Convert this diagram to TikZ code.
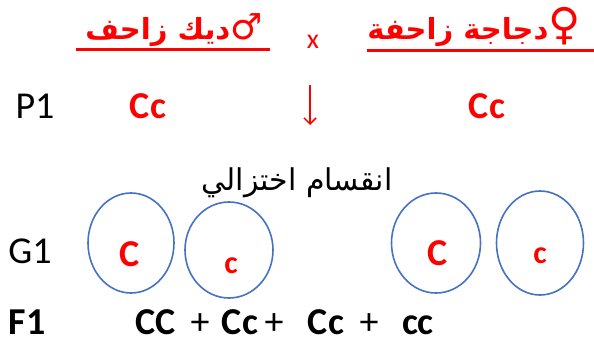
\documentclass[tikz,border=0pt]{standalone}
\usepackage{fontspec}
\setmainfont{Carlito}
\newfontfamily\arabicfont[Script=Arabic]{DejaVu Sans}
\TeXXeTstate=1
\usetikzlibrary{arrows.meta, shapes.geometric}
\definecolor{genred}{RGB}{255,0,0}
\definecolor{gamblue}{RGB}{68,114,196}

\begin{document}
\begin{tikzpicture}[x=1pt, y=-1pt,
  lbl/.style={anchor=base, inner sep=0pt, font=\fontsize{38}{40}\selectfont},
  allele/.style={anchor=base, inner sep=0pt, text=genred, font=\fontsize{38}{40}\selectfont\bfseries},
  small allele/.style={allele, font=\fontsize{32}{34}\selectfont\bfseries},
  gam/.style={ellipse, draw=gamblue, line width=1.6pt, inner sep=0pt},
  head/.style={anchor=base, inner sep=0pt, text=genred, font=\fontsize{29}{32}\selectfont\arabicfont\bfseries}]
\useasboundingbox (0,0) rectangle (594,343);
% parents
\node[head] (male) at (174,39) {\beginR {\fontsize{36}{36}\selectfont ♂}ديك زاحف\endR};
\node[head] (female) at (474,39) {\beginR {\fontsize{44}{44}\selectfont ♀}دجاجة زاحفة\endR};
\node[lbl, text=genred, font=\fontsize{28}{30}\selectfont] (cross) at (313,48) {x};
\draw[genred, line width=3pt] (76,49) -- (270,49);
\draw[genred, line width=3pt] (367,50) -- (594,50);

\node[lbl] (p1) at (35,118) {P1};
\node[allele] (pm) at (148,118) {Cc};
\node[allele] (pf) at (487,118) {Cc};
\coordinate (arrtop) at (310,85);
\coordinate (arrbot) at (310,125);
\draw[genred, line width=1.5pt, -{Straight Barb[length=6pt, width=12pt]}] (arrtop) -- (arrbot);

\node[anchor=base, inner sep=0pt, font=\fontsize{30}{32}\selectfont\arabicfont] (meio) at (297,190) {\beginR انقسام اختزالي\endR};

% gametes
\node[lbl] (g1) at (30,263) {G1};
\node[gam, minimum width=86pt, minimum height=100pt] (ga) at (131,243) {};
\node[gam, minimum width=88pt, minimum height=96pt] (gb) at (229,250) {};
\node[gam, minimum width=89pt, minimum height=100pt] (gc) at (436,243) {};
\node[gam, minimum width=87pt, minimum height=104pt] (gd) at (540,243) {};
\node[allele] (ca) at (130,266) {C};
\node[small allele] (cb) at (231,273) {c};
\node[allele] (cc) at (438,265) {C};
\node[small allele] (cd) at (540,263) {c};

% offspring
\node[lbl, font=\fontsize{38}{40}\selectfont\bfseries] (f1) at (27,334) {F1};
\node[lbl, font=\fontsize{38}{40}\selectfont\bfseries] (o1) at (156,334) {CC};
\node[lbl] (s1) at (200,334) {+};
\node[lbl, font=\fontsize{38}{40}\selectfont\bfseries] (o2) at (240,334) {Cc};
\node[lbl] (s2) at (274,334) {+};
\node[lbl, font=\fontsize{38}{40}\selectfont\bfseries] (o3) at (326,334) {Cc};
\node[lbl] (s3) at (369,334) {+};
\node[lbl, font=\fontsize{38}{40}\selectfont\bfseries] (o4) at (418,334) {cc};
\end{tikzpicture}
\end{document}
